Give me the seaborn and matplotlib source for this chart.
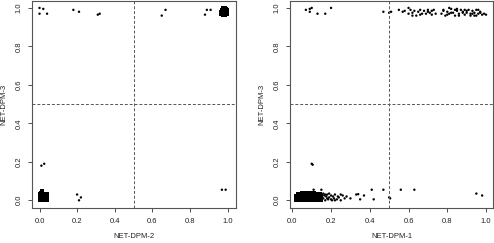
import numpy as np
import pandas as pd
import matplotlib
matplotlib.use("Agg")
import matplotlib.pyplot as plt
import seaborn as sns

sns.set_style("white")
plt.rcParams['font.family'] = ['Liberation Sans', 'DejaVu Sans']

ticks = [0.0, 0.2, 0.4, 0.6, 0.8, 1.0]
tick_labels = ["0.0", "0.2", "0.4", "0.6", "0.8", "1.0"]

# ---- Left panel: NET-DPM-2 vs NET-DPM-3 ----
left_bl_x = [0.005, 0.01, 0.015, 0.02, 0.025, 0.03, 0.035, 0.04,
             0.005, 0.01, 0.015, 0.02, 0.025, 0.03, 0.035, 0.04,
             0.005, 0.01, 0.015, 0.02, 0.025, 0.03, 0.035, 0.04,
             0.005, 0.01, 0.015, 0.02, 0.025, 0.03, 0.035, 0.04,
             0.01, 0.015]
left_bl_y = [0.0, 0.0, 0.0, 0.0, 0.0, 0.0, 0.0, 0.0,
             0.01, 0.01, 0.01, 0.01, 0.01, 0.01, 0.01, 0.01,
             0.02, 0.02, 0.02, 0.02, 0.02, 0.02, 0.02, 0.02,
             0.03, 0.03, 0.03, 0.03, 0.03, 0.03, 0.03, 0.03,
             0.04, 0.05]
left_tr_x = [0.965, 0.97, 0.975, 0.98, 0.985, 0.99, 0.995,
             0.965, 0.97, 0.975, 0.98, 0.985, 0.99, 0.995,
             0.97, 0.975, 0.98, 0.985, 0.99, 0.995,
             0.975, 0.98, 0.985, 0.99]
left_tr_y = [0.97, 0.97, 0.965, 0.965, 0.965, 0.97, 0.97,
             0.98, 0.98, 0.98, 0.98, 0.98, 0.98, 0.98,
             0.99, 0.99, 0.99, 0.99, 0.99, 0.99,
             1.0, 1.0, 1.0, 0.995]
left_sc_x = [0.01, 0.025, 0.2, 0.21, 0.22,
             0.0, 0.02, 0.0, 0.04, 0.18, 0.21, 0.31, 0.32,
             0.65, 0.67, 0.88, 0.89, 0.91, 0.97, 0.99]
left_sc_y = [0.18, 0.19, 0.03, 0.0, 0.015,
             1.0, 0.995, 0.97, 0.97, 0.99, 0.98, 0.965, 0.97,
             0.96, 0.99, 0.965, 0.99, 0.99, 0.055, 0.055]

# ---- Right panel: NET-DPM-1 vs NET-DPM-3 ----
right_core_x = [0.02, 0.03, 0.04, 0.05, 0.06, 0.07, 0.08, 0.09, 0.10, 0.11, 0.12, 0.13, 0.14, 0.15,
                0.02, 0.03, 0.04, 0.05, 0.06, 0.07, 0.08, 0.09, 0.10, 0.11, 0.12, 0.13, 0.14, 0.15,
                0.02, 0.03, 0.04, 0.05, 0.06, 0.07, 0.08, 0.09, 0.10, 0.11, 0.12, 0.13, 0.14, 0.15,
                0.03, 0.04, 0.05, 0.06, 0.07, 0.08, 0.09, 0.10, 0.11, 0.12, 0.13, 0.14,
                0.05, 0.06, 0.07, 0.08, 0.09, 0.10, 0.11, 0.12]
right_core_y = [0.0, 0.0, 0.0, 0.0, 0.0, 0.0, 0.0, 0.0, 0.0, 0.0, 0.0, 0.0, 0.0, 0.0,
                0.01, 0.01, 0.01, 0.01, 0.01, 0.01, 0.01, 0.01, 0.01, 0.01, 0.01, 0.01, 0.01, 0.01,
                0.02, 0.02, 0.02, 0.02, 0.02, 0.02, 0.02, 0.02, 0.02, 0.02, 0.02, 0.02, 0.02, 0.02,
                0.03, 0.03, 0.03, 0.03, 0.03, 0.03, 0.03, 0.03, 0.03, 0.03, 0.03, 0.03,
                0.038, 0.038, 0.04, 0.036, 0.035, 0.037, 0.035, 0.034]
right_sc_x = [0.16, 0.165, 0.17, 0.175, 0.18, 0.185, 0.19, 0.2, 0.205, 0.21, 0.215, 0.22, 0.23,
              0.235, 0.24, 0.25, 0.26, 0.27, 0.28, 0.3, 0.17, 0.19, 0.2, 0.22, 0.25, 0.16, 0.18,
              0.33, 0.34, 0.35, 0.37, 0.41, 0.42, 0.47, 0.5, 0.505, 0.56, 0.63, 0.95, 0.98,
              0.11, 0.15, 0.1, 0.105,
              0.07, 0.09, 0.09, 0.1, 0.13, 0.17, 0.2, 0.47, 0.5, 0.51]
right_sc_y = [0.01, 0.025, 0.0, 0.02, 0.03, 0.005, 0.015, 0.025, 0.0, 0.02, 0.01, 0.03, 0.005,
              0.02, 0.015, 0.0, 0.025, 0.01, 0.02, 0.01, 0.03, 0.035, 0.005, 0.0, 0.03, 0.035, 0.01,
              0.03, 0.032, 0.005, 0.025, 0.055, 0.005, 0.055, 0.015, 0.01, 0.055, 0.055, 0.035, 0.025,
              0.055, 0.055, 0.19, 0.185,
              0.99, 0.98, 0.995, 1.0, 0.97, 0.97, 1.0, 0.98, 0.975, 0.98]
right_tr_x = [0.55, 0.57, 0.58, 0.6, 0.61, 0.62, 0.63, 0.64, 0.65, 0.66, 0.67, 0.68, 0.69, 0.7,
              0.71, 0.72, 0.73, 0.74, 0.6, 0.62, 0.66, 0.7, 0.72,
              0.77, 0.78, 0.79, 0.8, 0.81, 0.82, 0.83, 0.84, 0.85, 0.86, 0.87, 0.88, 0.89,
              0.9, 0.91, 0.92, 0.93, 0.94, 0.95, 0.96, 0.97, 0.98, 1.0,
              0.78, 0.8, 0.82, 0.84, 0.86, 0.88, 0.9, 0.92, 0.94, 0.96, 0.97, 0.99,
              0.81, 0.85, 0.89, 0.93, 0.95]
right_tr_y = [0.99, 0.98, 0.985, 0.97, 0.99, 0.975, 0.985, 0.96, 0.98, 0.99, 0.97, 0.985, 0.97, 0.99,
              0.975, 0.965, 0.99, 0.97, 1.0, 0.96, 0.965, 0.98, 0.985,
              0.97, 0.99, 0.96, 0.98, 0.97, 0.995, 0.975, 0.96, 0.985, 0.97, 0.99, 0.98, 0.965,
              0.975, 0.99, 0.96, 0.985, 0.975, 0.99, 0.97, 0.98, 0.965, 0.965,
              0.985, 0.965, 0.975, 0.99, 0.96, 0.975, 0.985, 0.97, 0.96, 0.99, 0.975, 0.97,
              1.0, 0.995, 0.99, 0.97, 0.96]

left_dense = pd.DataFrame({"x": left_bl_x + left_tr_x, "y": left_bl_y + left_tr_y})
left_sparse = pd.DataFrame({"x": left_sc_x, "y": left_sc_y})
right_dense = pd.DataFrame({"x": right_core_x, "y": right_core_y})
right_sparse = pd.DataFrame({"x": right_sc_x + right_tr_x, "y": right_sc_y + right_tr_y})

fig = plt.figure(figsize=(4.94, 2.43), dpi=100)
ax1 = fig.add_axes([32/494, 35/243, 204/494, 207/243])
ax2 = fig.add_axes([290/494, 35/243, 203/494, 207/243])

panels = [(ax1, left_dense, left_sparse, "NET-DPM-2", (-0.04, 1.045)),
          (ax2, right_dense, right_sparse, "NET-DPM-1", (-0.012, 1.036))]

for ax, dd, sd, xl, xlim in panels:
    sns.scatterplot(data=dd, x="x", y="y", ax=ax, s=9, color="black",
                    linewidth=0, edgecolor="none", marker="s")
    sns.scatterplot(data=sd, x="x", y="y", ax=ax, s=3, color="black",
                    linewidth=0, edgecolor="none")
    ax.axvline(0.5, color="#555555", linestyle=(0, (3, 2)), linewidth=0.7)
    ax.axhline(0.5, color="#555555", linestyle=(0, (3, 2)), linewidth=0.7)
    ax.set_xlim(*xlim)
    ax.set_ylim(-0.04, 1.036)
    ax.set_xticks(ticks)
    ax.set_xticklabels(tick_labels, fontsize=5.5, color="#222222")
    ax.set_yticks(ticks)
    ax.set_yticklabels(tick_labels, fontsize=5.5, rotation=90, va="center", color="#222222")
    ax.tick_params(axis="both", direction="out", length=3, width=0.6,
                   color="#333333", pad=4, left=True, bottom=True)
    ax.set_xlabel(xl, fontsize=5.5, color="#222222", labelpad=6)
    ax.set_ylabel("NET-DPM-3", fontsize=5.5, color="#222222", labelpad=6)
    for sp in ax.spines.values():
        sp.set_color("#555555")
        sp.set_linewidth(0.8)

fig.savefig("out.png", dpi=100)
